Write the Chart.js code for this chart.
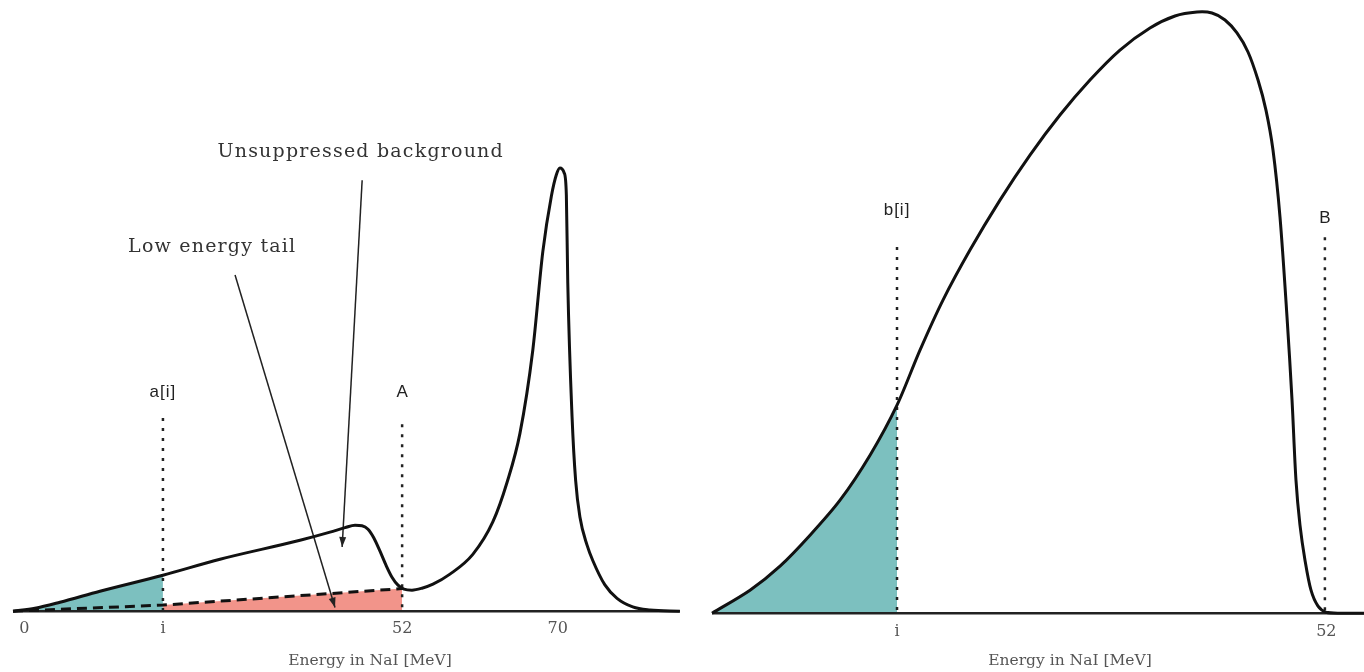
<!DOCTYPE html>
<html>
<head>
<meta charset="utf-8">
<script src="https://cdn.jsdelivr.net/npm/chart.js@4.4.1/dist/chart.umd.min.js"></script>
<style>
  html, body { margin: 0; padding: 0; background: #fff; overflow: hidden; width: 1364px; height: 672px; }
  canvas { position: absolute; top: 0; }
  #left { left: 0; }
  #right { left: 700px; }
</style>
</head>
<body>
<canvas id="left" width="740" height="672"></canvas>
<canvas id="right" width="740" height="672"></canvas>
<script>
// abscissa is schematic (0..100), only the labelled ticks carry meaning
const leftCurveX = [0, 3.08, 6.58, 12.18, 21.0, 29.0, 40.2, 44.4, 46.5, 47.9, 48.88, 49.72, 50.56, 51.4, 52.24, 53.08, 53.92, 54.76, 55.88, 57.28, 58.82, 61.2, 64.4, 67.2, 69.2, 71.0, 72.8, 74.2, 75.4, 76.1, 76.6, 77.2, 77.5, 77.7, 78.3, 78.8, 79.4, 80.4, 81.2, 82.9, 84.6, 86.8, 89.2, 93.4];
const leftCurveY = [0, 0.49, 1.47, 3.27, 5.89, 8.5, 11.6, 12.93, 13.67, 14.08, 13.99, 13.42, 11.95, 9.82, 7.53, 5.56, 4.26, 3.6, 3.44, 3.76, 4.42, 6.06, 9.3, 14.6, 21.1, 29.1, 42.7, 58.8, 67.9, 71.4, 72.5, 71.7, 68.1, 53.7, 31.8, 21.4, 15.4, 10.8, 8.3, 4.3, 2.1, 0.7, 0.2, 0];
const tailX = [0, 21.0, 54.5];
const tailY = [0, 1.0, 3.7];
const leftTicks = [1.6, 21.0, 54.5, 76.3];
const leftTickLabels = ['0', 'i', '52', '70'];
const leftCut = 21.0, leftA = 54.5;
const leftCutTop = 31.6, leftATop = 30.6;

const rightCurveX = [0, 5.31, 9.5, 13.69, 17.88, 22.07, 25.84, 29.05, 32.26, 36.03, 40.22, 44.41, 48.6, 52.79, 56.98, 61.17, 64.66, 67.74, 69.83, 71.65, 73.32, 74.86, 76.26, 77.37, 78.35, 79.33, 80.31, 81.01, 81.56, 82.12, 82.82, 83.66, 84.64, 85.75, 87.71, 91.06];
const rightCurveY = [0, 3.75, 7.67, 12.72, 18.43, 25.77, 33.93, 42.9, 51.06, 59.22, 67.37, 74.71, 81.24, 86.95, 91.84, 95.43, 97.39, 98.04, 97.88, 96.74, 94.62, 91.52, 86.95, 82.05, 75.53, 64.6, 48.29, 34.75, 21.7, 14.36, 8.65, 3.75, 1.14, 0.16, 0, 0];
const rightTicks = [25.84, 85.8];
const rightTickLabels = ['i', '52'];
const rightCut = 25.84, rightB = 85.6;
const rightCutTop = 59.7, rightBTop = 61.3;

const pts = (xs, ys) => xs.map((x, i) => ({ x, y: ys[i] }));
const CLEAR = 'rgba(0,0,0,0)';
const serif = 'DejaVu Serif';
const sans = 'Liberation Sans';

// smooth: 'monotone' keeps the narrow peak on the left, plain tension is rounder on the right
const smoothing = mode => mode === 'monotone' ? { cubicInterpolationMode: 'monotone' } : { tension: 0.3 };
const curve = (data, mode) => ({ data, borderColor: '#111', borderWidth: 3, fill: false, order: 1, ...smoothing(mode) });
const area = (data, color, mode) => ({ data, borderColor: CLEAR, borderWidth: 1, backgroundColor: color, fill: 'origin', order: 9, ...(mode ? smoothing(mode) : {}) });
const vline = (x, top) => ({ data: [{ x, y: top }, { x, y: 0 }], borderColor: '#222', borderWidth: 2.5, borderDash: [3, 7], fill: false, order: 3 });
const baseline = xmax => ({ data: [{ x: 0, y: 0 }, { x: xmax, y: 0 }], borderColor: '#222', borderWidth: 2.5, fill: false, order: 5 });
const arrow = (from, to) => ({ data: [{ x: from[0], y: from[1] }, { x: to[0], y: to[1] }], borderColor: '#222', borderWidth: 1.5, fill: false, arrow: true, order: 4 });

const notes = {
  id: 'notes',
  afterDatasetsDraw(chart, args, opts) {
    const { ctx, scales: { x, y } } = chart;
    ctx.save();
    chart.data.datasets.forEach((ds, i) => {
      if (!ds.arrow) return;
      const p = chart.getDatasetMeta(i).data;
      const a = p[p.length - 2], b = p[p.length - 1];
      const ang = Math.atan2(b.y - a.y, b.x - a.x);
      ctx.fillStyle = ds.borderColor;
      ctx.beginPath();
      ctx.moveTo(b.x, b.y);
      ctx.lineTo(b.x - 10 * Math.cos(ang) + 3.5 * Math.sin(ang), b.y - 10 * Math.sin(ang) - 3.5 * Math.cos(ang));
      ctx.lineTo(b.x - 10 * Math.cos(ang) - 3.5 * Math.sin(ang), b.y - 10 * Math.sin(ang) + 3.5 * Math.cos(ang));
      ctx.closePath();
      ctx.fill();
    });
    ctx.textAlign = 'center';
    ctx.textBaseline = 'middle';
    (opts.labels || []).forEach(l => {
      ctx.font = l.font;
      ctx.fillStyle = l.color;
      ctx.letterSpacing = l.spacing || '0px';
      ctx.fillText(l.text, x.getPixelForValue(l.x), y.getPixelForValue(l.y));
    });
    ctx.restore();
  }
};

function makeChart(id, cfg) {
  return new Chart(document.getElementById(id), {
    type: 'line',
    data: { datasets: cfg.datasets },
    options: {
      responsive: false,
      animation: false,
      layout: { padding: cfg.padding },
      datasets: { line: { clip: false } },
      elements: { point: { radius: 0 } },
      plugins: { legend: { display: false }, tooltip: { enabled: false }, notes: { labels: cfg.labels } },
      scales: {
        x: {
          type: 'linear', min: 0, max: 100,
          grid: { display: false, drawTicks: false },
          border: { display: false },
          afterBuildTicks: s => { s.ticks = cfg.ticks.map(v => ({ value: v })); },
          ticks: {
            autoSkip: false, maxRotation: 0, padding: cfg.tickPad, color: '#555',
            font: { family: serif, size: 16 },
            callback: (v, i) => cfg.tickLabels[i]
          },
          title: {
            display: true, text: 'Energy in NaI [MeV]', color: '#555',
            font: { family: serif, size: 15.5 },
            padding: { top: cfg.titlePad, bottom: 2 }
          }
        },
        y: { display: false, min: 0, max: 100 }
      }
    },
    plugins: [notes]
  });
}

const leftCurve = pts(leftCurveX, leftCurveY);
const tail = pts(tailX, tailY);
makeChart('left', {
  padding: { left: 13, right: 13, top: 0, bottom: 0 },
  tickPad: 8, titlePad: 5,
  ticks: leftTicks, tickLabels: leftTickLabels,
  datasets: [
    curve(leftCurve, 'monotone'),
    { data: tail, borderColor: '#111', borderWidth: 3, borderDash: [10, 6], fill: false, order: 2 },
    area(leftCurve.filter(p => p.x <= leftCut), '#7cc0bf', 'monotone'),
    area(tail.filter(p => p.x >= leftCut), '#f2948a', null),
    baseline(93.4),
    vline(leftCut, leftCutTop),
    vline(leftA, leftATop),
    arrow([31.1, 55.0], [45.1, 0.6]),
    arrow([48.9, 70.5], [46.1, 10.5])
  ],
  labels: [
    { text: 'Unsuppressed background', x: 48.7, y: 75.1, font: '19px "' + serif + '"', color: '#333', spacing: '1.2px' },
    { text: 'Low energy tail', x: 27.9, y: 59.6, font: '19px "' + serif + '"', color: '#333', spacing: '1.2px' },
    { text: 'a[i]', x: leftCut, y: 35.8, font: '17px "' + sans + '"', color: '#222', spacing: '1px' },
    { text: 'A', x: leftA, y: 35.8, font: '17px "' + sans + '"', color: '#222' }
  ]
});

const rightCurve = pts(rightCurveX, rightCurveY);
makeChart('right', {
  padding: { left: 12, right: 12, top: 0, bottom: 0 },
  tickPad: 9, titlePad: 1,
  ticks: rightTicks, tickLabels: rightTickLabels,
  datasets: [
    curve(rightCurve, 'tension'),
    area(rightCurve.filter(p => p.x <= rightCut), '#7cc0bf', 'tension'),
    baseline(91.06),
    vline(rightCut, rightCutTop),
    vline(rightB, rightBTop)
  ],
  labels: [
    { text: 'b[i]', x: rightCut, y: 65.7, font: '17px "' + sans + '"', color: '#222', spacing: '1px' },
    { text: 'B', x: rightB, y: 64.4, font: '17px "' + sans + '"', color: '#222' }
  ]
});
</script>
</body>
</html>
